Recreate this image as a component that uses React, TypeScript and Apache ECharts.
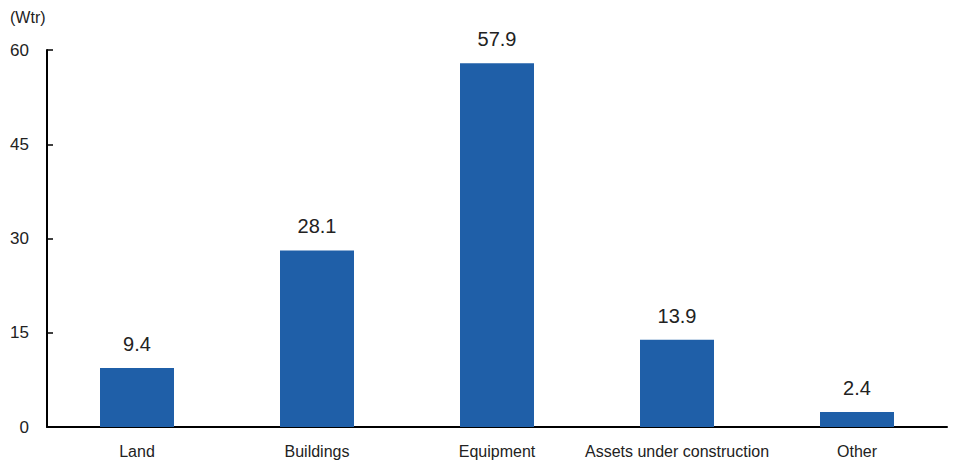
import React, { useEffect, useRef } from "react";
import * as echarts from "echarts";

const categories = ["Land", "Buildings", "Equipment", "Assets under construction", "Other"];
const values = [9.4, 28.1, 57.9, 13.9, 2.4];
const unitLabel = "(Wtr)";

const FONT = "'Liberation Sans Narrow', 'Arial Narrow', 'Liberation Sans', Arial, sans-serif";

export default function App() {
  const ref = useRef<HTMLDivElement>(null);
  useEffect(() => {
    if (!ref.current) return;
    const chart = echarts.init(ref.current, undefined, { renderer: "svg" });
    chart.setOption({
      animation: false,
      textStyle: { fontFamily: FONT },
      grid: { left: 47, right: 6, top: 50, bottom: 34, containLabel: false },
      graphic: [
        {
          type: "text",
          left: 10,
          top: 9,
          style: { text: unitLabel, fontFamily: FONT, fontSize: 16, fill: "#222" },
        },
      ],
      xAxis: {
        type: "category",
        data: categories,
        axisLine: { lineStyle: { color: "#000", width: 2 } },
        axisTick: { inside: true, length: 6, lineStyle: { color: "#000", width: 1.5 } },
        axisLabel: { color: "#222", fontSize: 16, fontFamily: FONT, margin: 16, interval: 0 },
      },
      yAxis: {
        type: "value",
        min: 0,
        max: 60,
        interval: 15,
        axisLine: { show: true, lineStyle: { color: "#000", width: 2 } },
        axisTick: { show: true, inside: true, length: 6, lineStyle: { color: "#000", width: 1.5 } },
        splitLine: { show: false },
        axisLabel: { color: "#222", fontSize: 17, fontFamily: FONT, margin: 18 },
      },
      series: [
        {
          type: "bar",
          data: values,
          barWidth: 74,
          itemStyle: { color: "#1f5fa8" },
          label: {
            show: true,
            position: "top",
            distance: 14,
            color: "#222",
            fontSize: 20,
            fontFamily: FONT,
            formatter: (p: any) => p.value.toFixed(1),
          },
        },
      ],
    });
    return () => chart.dispose();
  }, []);
  return <div ref={ref} style={{ width: 953, height: 461, position: "absolute", left: 0, top: 0, background: "#fff" }} />;
}
